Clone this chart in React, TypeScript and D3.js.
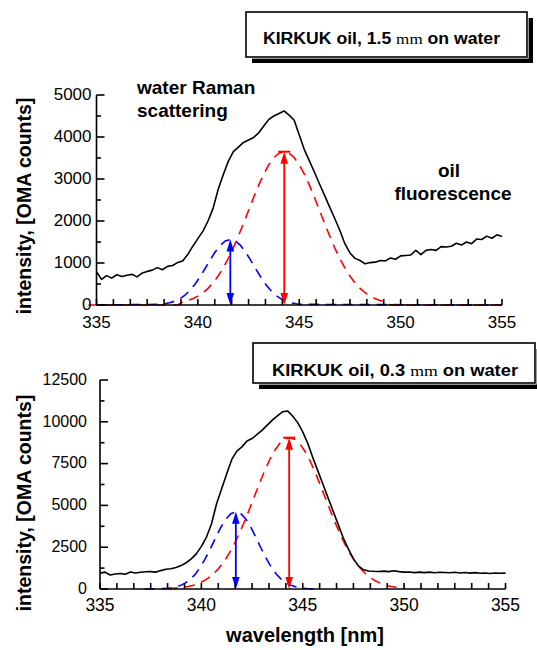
import React from "react";
import * as d3 from "d3";

// ---------- data ----------
const wavelengthGrid = [
  335, 335.25, 335.5, 335.75, 336, 336.25, 336.5, 336.75, 337, 337.25,
  337.5, 337.75, 338, 338.25, 338.5, 338.75, 339, 339.25, 339.5, 339.75,
  340, 340.25, 340.5, 340.75, 341, 341.25, 341.5, 341.75, 342, 342.25,
  342.5, 342.75, 343, 343.25, 343.5, 343.75, 344, 344.25, 344.5, 344.75,
  345, 345.25, 345.5, 345.75, 346, 346.25, 346.5, 346.75, 347, 347.25,
  347.5, 347.75, 348, 348.25, 348.5, 348.75, 349, 349.25, 349.5, 349.75,
  350, 350.25, 350.5, 350.75, 351, 351.25, 351.5, 351.75, 352, 352.25,
  352.5, 352.75, 353, 353.25, 353.5, 353.75, 354, 354.25, 354.5, 354.75, 355,
];

const topMeasured = [
  790, 610, 700, 640, 720, 680, 710, 730, 670, 760,
  800, 830, 890, 840, 920, 940, 1010, 1050, 1200, 1400,
  1580, 1760, 2000, 2300, 2750, 3100, 3420, 3650, 3760, 3870,
  3930, 3990, 4100, 4260, 4420, 4500, 4560, 4620, 4520, 4400,
  4050, 3700, 3430, 3160, 2880, 2610, 2330, 2060, 1780, 1460,
  1240, 1110, 1060, 980, 1010, 1020, 1060, 1050, 1120, 1090,
  1170, 1180, 1190, 1300, 1200, 1300, 1320, 1300, 1390, 1380,
  1400, 1470, 1430, 1500, 1460, 1570, 1560, 1640, 1590, 1670, 1630,
];

const topRedX = [
  334.6, 339.0, 339.25, 339.5, 339.75, 340, 340.25, 340.5, 340.75, 341, 341.25,
  341.5, 341.75, 342, 342.25, 342.5, 342.75, 343, 343.25, 343.5, 343.75,
  344, 344.25, 344.5, 344.75, 345, 345.25, 345.5, 345.75, 346, 346.25,
  346.5, 346.75, 347, 347.25, 347.5, 347.75, 348, 348.25, 348.5, 348.75,
  349, 349.25, 349.5, 355.2,
];
const topRedY = [
  0, 0, 71, 104, 149, 211, 292, 397, 529, 690, 883,
  1107, 1362, 1643, 1942, 2252, 2560, 2853, 3117, 3340, 3510,
  3614, 3650, 3614, 3510, 3340, 3117, 2853, 2560, 2252, 1942,
  1643, 1362, 1107, 883, 690, 529, 397, 292, 211, 149,
  104, 71, 0, 0,
];

const topBlueX = [
  335, 338.1, 338.35, 338.6, 338.85, 339.1, 339.35, 339.6, 339.85, 340.1,
  340.35, 340.6, 340.85, 341.1, 341.35, 341.6, 341.85, 342.1, 342.35, 342.6,
  342.85, 343.1, 343.35, 343.6, 343.85, 344.1, 344.35, 344.6, 344.85, 345.1, 355,
];
const topBlueY = [
  0, 15, 29, 52, 89, 147, 230, 344, 490, 666,
  864, 1069, 1261, 1419, 1524, 1560, 1524, 1419, 1261, 1069,
  864, 666, 490, 344, 230, 147, 89, 52, 29, 15, 0,
];

const bottomMeasured = [
  950, 1010, 840, 900, 930, 880, 1020, 960, 1000, 1030,
  1040, 1010, 1100, 1180, 1210, 1290, 1400, 1570, 1800, 2100,
  2550, 3100, 3900, 5100, 6000, 6900, 7750, 8250, 8500, 8850,
  9000, 9250, 9500, 9800, 10100, 10350, 10600, 10650, 10350, 9950,
  9400, 8700, 7850, 7050, 6250, 5450, 4650, 3850, 3050, 2400,
  1800, 1380, 1150, 1080, 1060, 1050, 1070, 1040, 1090, 1040,
  1010, 1020, 980, 1010, 980, 1010, 970, 1000, 990, 970,
  1000, 960, 990, 950, 980, 940, 960, 930, 960, 940, 950,
];

const bottomRedX = [
  338.35, 338.85, 339.35, 339.6, 339.85, 340.1, 340.35, 340.6, 340.85, 341.1,
  341.35, 341.6, 341.85, 342.1, 342.35, 342.6, 342.85, 343.1, 343.35, 343.6,
  343.85, 344.1, 344.35, 344.6, 344.85, 345.1, 345.35, 345.6, 345.85, 346.1,
  346.35, 346.6, 346.85, 347.1, 347.35, 347.6, 347.85, 348.1, 348.35, 348.6,
  348.85, 349.1, 349.35, 349.85, 350.0,
];
const bottomRedY = [
  25, 65, 153, 227, 332, 474, 664, 911, 1225, 1613,
  2083, 2632, 3262, 3960, 4711, 5489, 6269, 7013, 7686, 8256,
  8688, 8959, 9050, 8959, 8688, 8256, 7686, 7013, 6269, 5489,
  4711, 3960, 3262, 2632, 2083, 1613, 1225, 911, 664, 474,
  332, 227, 153, 65, 40,
];

const bottomBlueX = [
  337.2, 338.2, 338.45, 338.7, 338.95, 339.2, 339.45, 339.7, 339.95, 340.2,
  340.45, 340.7, 340.95, 341.2, 341.45, 341.7, 341.95, 342.2, 342.45, 342.7,
  342.95, 343.2, 343.45, 343.7, 343.95, 344.2, 344.45, 344.7, 344.95, 345.2, 345.7,
];
const bottomBlueY = [
  0, 29, 59, 112, 203, 349, 571, 882, 1303, 1825,
  2421, 3058, 3664, 4167, 4502, 4620, 4502, 4167, 3664, 3058,
  2421, 1825, 1303, 882, 571, 349, 203, 112, 59, 29, 0,
];

const topYTicks = [0, 1000, 2000, 3000, 4000, 5000];
const bottomYTicks = [0, 2500, 5000, 7500, 10000, 12500];
const xTickLabels = [335, 340, 345, 350, 355];

const topArrows = [
  { x: 341.6, peak: 1560, color: "#0000ff", cap: false },
  { x: 344.26, peak: 3650, color: "#ff0000", cap: true },
];
const bottomArrows = [
  { x: 341.7, peak: 4620, color: "#0000ff", cap: false },
  { x: 344.33, peak: 9050, color: "#ff0000", cap: true },
];

const FONT = "'Liberation Sans', Arial, Helvetica, sans-serif";

type Pt = [number, number];
const zip = (xs: number[], ys: number[]): Pt[] => xs.map((x, i) => [x, ys[i]]);

function Panel(props: {
  x: d3.ScaleLinear<number, number>;
  y: d3.ScaleLinear<number, number>;
  yTicks: number[];
  yMinorStep: number;
  measured: number[];
  redX: number[];
  redY: number[];
  blueX: number[];
  blueY: number[];
  arrows: { x: number; peak: number; color: string; cap: boolean }[];
  yFont: number;
  yLabelGap: number;
  yLabelShift: number;
  xFont: number;
  xLabelBaseline: number;
}) {
  const { x, y } = props;
  const line = d3
    .line<Pt>()
    .x((d) => x(d[0]))
    .y((d) => y(d[1]));
  const [y0, y1] = y.domain();
  const minor = d3.range(y0, y1 + 1e-6, props.yMinorStep);
  const xTicks = d3.range(0, 25).map((i) => 335 + (i * 5) / 6);
  const axisX = x(335);
  const axisY = y(0);
  return (
    <g>
      <path
        d={line(zip(props.blueX, props.blueY)) || ""}
        fill="none"
        stroke="#0000ff"
        strokeWidth={1.6}
        strokeDasharray="10,7"
      />
      <path
        d={line(zip(props.redX, props.redY)) || ""}
        fill="none"
        stroke="#ff0000"
        strokeWidth={1.6}
        strokeDasharray="10,7"
      />
      <path
        d={line(zip(wavelengthGrid, props.measured)) || ""}
        fill="none"
        stroke="#000"
        strokeWidth={1.6}
        strokeLinejoin="round"
      />
      {props.arrows.map((a, i) => {
        const ax = x(a.x);
        const top = y(a.peak);
        const bot = y(0);
        return (
          <g key={i} fill={a.color} stroke={a.color}>
            <line x1={ax} x2={ax} y1={top + 6} y2={bot - 6} strokeWidth={1.8} />
            <polygon points={`${ax},${top} ${ax - 3.8},${top + 12} ${ax + 3.8},${top + 12}`} stroke="none" />
            <polygon points={`${ax},${bot} ${ax - 3.8},${bot - 12} ${ax + 3.8},${bot - 12}`} stroke="none" />
            {a.cap && <line x1={ax - 6} x2={ax + 6} y1={top} y2={top} strokeWidth={2} />}
          </g>
        );
      })}
      <g stroke="#000" strokeWidth={1.6}>
        <line x1={axisX} x2={axisX} y1={y(y1)} y2={axisY} />
        <line x1={axisX} x2={x(355)} y1={axisY} y2={axisY} />
        {minor.map((v) => (
          <line
            key={"ym" + v}
            x1={axisX}
            x2={axisX + (props.yTicks.includes(v) ? 8 : 4.5)}
            y1={y(v)}
            y2={y(v)}
          />
        ))}
        {xTicks.map((v, i) => (
          <line key={"xt" + i} x1={x(v)} x2={x(v)} y1={axisY} y2={axisY - 6} />
        ))}
      </g>
      <g fontFamily={FONT} fontSize={props.yFont} fill="#000">
        {props.yTicks.map((v) => (
          <text
            key={"yl" + v}
            x={axisX - props.yLabelGap}
            y={y(v) - props.yLabelShift}
            dy="0.36em"
            textAnchor="end"
          >
            {v}
          </text>
        ))}
      </g>
      <g fontFamily={FONT} fontSize={props.xFont} fill="#000">
        {xTickLabels.map((v) => (
          <text key={"xl" + v} x={x(v)} y={props.xLabelBaseline} textAnchor="middle">
            {v}
          </text>
        ))}
      </g>
    </g>
  );
}

function TitleBox(props: { x: number; y: number; w: number; h: number; tx: number; ty: number; tw: number; value: string }) {
  const { x, y, w, h } = props;
  return (
    <g>
      <rect x={x + 6} y={y + 6} width={w} height={h} fill="#000" />
      <rect x={x - 1} y={y - 1} width={w + 2.6} height={h + 2.6} fill="#fff" />
      <rect x={x} y={y} width={w} height={h} fill="#fff" stroke="#000" strokeWidth={1.6} />
      <text
        x={props.tx}
        y={props.ty}
        fontFamily={FONT}
        fontWeight="bold"
        fontSize={16}
        textLength={props.tw}
        lengthAdjust="spacingAndGlyphs"
      >
        {`KIRKUK oil, ${props.value} `}
        <tspan fontFamily="'Liberation Serif', 'Times New Roman', serif" fontWeight="normal" fontSize={15.5}>
          mm
        </tspan>
        {" on water"}
      </text>
    </g>
  );
}

export default function App() {
  const topX = d3.scaleLinear().domain([335, 355]).range([96.5, 502]);
  const topY = d3.scaleLinear().domain([0, 5000]).range([305, 95]);
  const botX = d3.scaleLinear().domain([335, 355]).range([100, 505.5]);
  const botY = d3.scaleLinear().domain([0, 12500]).range([589, 380]);

  return (
    <svg
      width={537}
      height={650}
      viewBox="0 0 537 650"
      style={{ position: "absolute", left: 0, top: 0, background: "#fff" }}
    >
      <rect width={537} height={650} fill="#fff" />
      <Panel
        x={topX}
        y={topY}
        yTicks={topYTicks}
        yMinorStep={500}
        measured={topMeasured}
        redX={topRedX}
        redY={topRedY}
        blueX={topBlueX}
        blueY={topBlueY}
        arrows={topArrows}
        yFont={17}
        yLabelGap={5}
        yLabelShift={1.5}
        xFont={17}
        xLabelBaseline={328}
      />
      <Panel
        x={botX}
        y={botY}
        yTicks={bottomYTicks}
        yMinorStep={1250}
        measured={bottomMeasured}
        redX={bottomRedX}
        redY={bottomRedY}
        blueX={bottomBlueX}
        blueY={bottomBlueY}
        arrows={bottomArrows}
        yFont={16}
        yLabelGap={13}
        yLabelShift={1}
        xFont={17.5}
        xLabelBaseline={611}
      />

      <TitleBox x={246} y={12} w={281} h={45} tx={263} ty={43.5} tw={237} value="1.5" />
      <TitleBox x={253} y={343} w={282} h={40} tx={272} ty={376} tw={246} value="0.3" />

      <g fontFamily={FONT} fontWeight="bold" fontSize={19} fill="#000">
        <text x={137} y={93.5}>water Raman</text>
        <text x={137} y={116.5}>scattering</text>
        <text x={449} y={176.5} textAnchor="middle">oil</text>
        <text x={453} y={199.5} textAnchor="middle">fluorescence</text>
      </g>

      <g fontFamily={FONT} fontWeight="bold" fontSize={19.5} fill="#000">
        <text transform="translate(31,206) rotate(-90)" textAnchor="middle">
          intensity, [OMA counts]
        </text>
        <text transform="translate(31,503) rotate(-90)" textAnchor="middle">
          intensity, [OMA counts]
        </text>
        <text x={305} y={642} textAnchor="middle" fontSize={20}>
          wavelength [nm]
        </text>
      </g>
    </svg>
  );
}
